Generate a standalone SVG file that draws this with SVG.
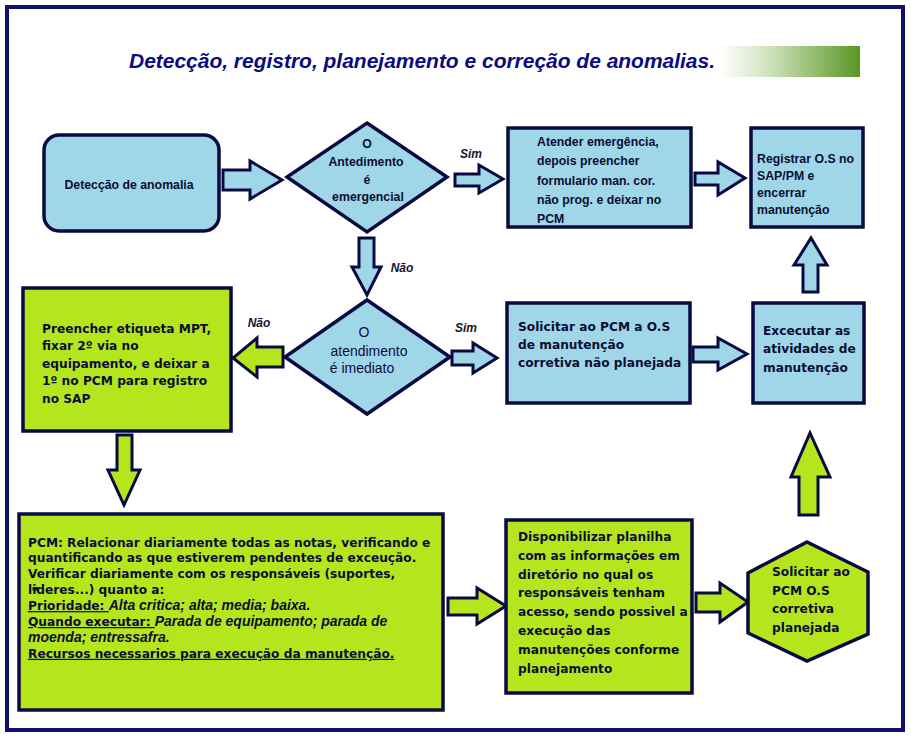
<svg xmlns="http://www.w3.org/2000/svg" width="911" height="737" viewBox="0 0 911 737">
<defs>
<linearGradient id="gbar" x1="0" y1="0" x2="1" y2="0">
<stop offset="0" stop-color="#ffffff"/>
<stop offset="0.35" stop-color="#cfe3bd"/>
<stop offset="1" stop-color="#5a9623"/>
</linearGradient>
<style>
.blue{fill:#9fd7e8;stroke:#0a0a42;stroke-width:3.5;stroke-linejoin:miter}
.green{fill:#b5e61d;stroke:#0a0a42;stroke-width:3.5;stroke-linejoin:miter}
.ab{fill:#9fd7e8;stroke:#0a0a42;stroke-width:3;stroke-linejoin:miter}
.ag{fill:#b5e61d;stroke:#0a0a42;stroke-width:3;stroke-linejoin:miter}
.c{font-family:"Liberation Sans",Arial,sans-serif;font-weight:bold;font-size:12.3px;fill:#0d0d33}
.t{font-family:"DejaVu Sans",Verdana,sans-serif;font-weight:bold;font-size:12.2px;fill:#0d0d33}
.lbl{font-family:"Liberation Sans",Arial,sans-serif;font-weight:bold;font-style:italic;font-size:12px;fill:#151530}
.it{font-family:"Liberation Sans",Arial,sans-serif;font-weight:bold;font-style:italic;font-size:14px}
.u{text-decoration:underline}
</style>
</defs>
<rect x="0" y="0" width="911" height="737" fill="#ffffff"/>
<rect x="7" y="7" width="896" height="723" fill="none" stroke="#10106e" stroke-width="4"/>
<g id="title">
<rect x="720" y="46" width="140" height="31" fill="url(#gbar)"/>
<text x="129" y="68" textLength="586" lengthAdjust="spacingAndGlyphs" font-family="'Liberation Sans',Arial,sans-serif" font-weight="bold" font-style="italic" font-size="19.5" fill="#0b0b80">Detecção, registro, planejamento e correção de anomalias.</text>
</g>
<g id="connectors">
<polygon class="ab" points="223,170 250,170 250,161 282,180 250,199 250,190 223,190"/>
<polygon class="ab" points="455,174 479,174 479,165 503,179 479,193 479,186 455,186"/>
<polygon class="ab" points="695,173 718,173 718,162 745,178 718,195 718,185 695,185"/>
<polygon class="ab" points="359,238 374,238 374,267 381,267 367,295 352,267 359,267"/>
<polygon class="ab" points="452,351 473,351 473,343 497,358 473,373 473,365 452,365"/>
<polygon class="ag" points="283,347 257,347 257,338 233,358 257,377 257,367 283,367"/>
<polygon class="ab" points="693,347 718,347 718,338 747,354 718,370 718,362 693,362"/>
<polygon class="ab" points="803,292 803,265 794,265 811,238 827,265 818,265 818,292"/>
<polygon class="ag" points="117,435 132,435 132,470 140,470 124,505 108,470 117,470"/>
<polygon class="ag" points="448,598 477,598 477,588 506,606 477,624 477,615 448,615"/>
<polygon class="ag" points="696,593 720,593 720,583 748,602 720,622 720,612 696,612"/>
<polygon class="ag" points="799,515 799,477 791,477 810,433 830,477 818,477 818,515"/>
<text class="lbl" x="471" y="158" text-anchor="middle">Sim</text>
<text class="lbl" x="402" y="272" text-anchor="middle">Não</text>
<text class="lbl" x="259" y="327" text-anchor="middle">Não</text>
<text class="lbl" x="466" y="332" text-anchor="middle">Sim</text>
</g>
<g id="n-deteccao">
<rect class="blue" x="44" y="135" width="175" height="96" rx="15" ry="15"/>
<text class="c" x="129" y="189" text-anchor="middle" font-size="13">Detecção de anomalia</text>
</g>
<g id="n-emergencial">
<polygon class="blue" points="367,123 447,177 367,232 287,177"/>
<text class="c" text-anchor="middle"><tspan x="367" y="148">O</tspan><tspan x="366" y="166">Antedimento</tspan><tspan x="367" y="184">é</tspan><tspan x="368" y="201">emergencial</tspan></text>
</g>
<g id="n-atender">
<rect class="blue" x="508" y="128" width="183" height="99"/>
<text class="c" font-size="12.4"><tspan x="537" y="146">Atender emergência,</tspan><tspan x="537" y="165.3">depois preencher</tspan><tspan x="537" y="184.6">formulario man. cor.</tspan><tspan x="537" y="203.9">não prog. e deixar no</tspan><tspan x="537" y="223.2">PCM</tspan></text>
</g>
<g id="n-registrar">
<rect class="blue" x="751" y="128" width="112" height="99"/>
<text class="c" font-size="12.25"><tspan x="757" y="163">Registrar O.S no</tspan><tspan x="757" y="180">SAP/PM e</tspan><tspan x="757" y="197">encerrar</tspan><tspan x="757" y="214">manutenção</tspan></text>
</g>
<g id="n-imediato">
<polygon class="blue" points="367,300 450,357 367,414 285,357"/>
<text font-family="'Liberation Sans',Arial,sans-serif" font-size="14" fill="#0d0d40" text-anchor="middle"><tspan x="364" y="337">O</tspan><tspan x="369" y="355.5">atendimento</tspan><tspan x="362" y="373">é imediato</tspan></text>
</g>
<g id="n-preencher">
<rect class="green" x="23" y="288" width="208" height="143"/>
<text class="t"><tspan x="42" y="332.7">Preencher etiqueta MPT,</tspan><tspan x="42" y="350.2">fixar 2º via no</tspan><tspan x="42" y="367.7">equipamento, e deixar a</tspan><tspan x="42" y="385.2">1º no PCM para registro</tspan><tspan x="42" y="402.7">no SAP</tspan></text>
</g>
<g id="n-solicitar-np">
<rect class="blue" x="507" y="303" width="183" height="100"/>
<text class="t"><tspan x="518" y="330.7">Solicitar ao PCM a O.S</tspan><tspan x="518" y="349">de manutenção</tspan><tspan x="518" y="367.3">corretiva não planejada</tspan></text>
</g>
<g id="n-executar">
<rect class="blue" x="753" y="303" width="111" height="100"/>
<text class="t"><tspan x="763" y="334.5">Excecutar as</tspan><tspan x="763" y="353">atividades de</tspan><tspan x="763" y="371.5">manutenção</tspan></text>
</g>
<g id="n-pcm">
<rect class="green" x="19" y="514" width="424" height="196"/>
<text class="t">
<tspan x="28" y="546.5">PCM: Relacionar diariamente todas as notas, verificando e</tspan>
<tspan x="28" y="562.4">quantificando as que estiverem pendentes de exceução.</tspan>
<tspan x="28" y="578.3">Verificar diariamente com os responsáveis (suportes,</tspan>
<tspan x="28" y="594.2">lideres...) quanto a:</tspan>
<tspan x="28" y="610.1" class="u">Prioridade: </tspan><tspan class="it">Alta critica; alta; media; baixa.</tspan>
<tspan x="28" y="626" class="u">Quando executar: </tspan><tspan class="it">Parada de equipamento; parada de</tspan>
<tspan x="28" y="641.9" class="it">moenda; entressafra.</tspan>
<tspan x="28" y="657.8" class="u">Recursos necessarios para execução da manutenção.</tspan>
</text>
<rect x="32.5" y="587" width="6.5" height="3.5" fill="#0d0d33"/>
</g>
<g id="n-disponibilizar">
<rect class="green" x="506" y="520" width="186" height="173"/>
<text class="t"><tspan x="518" y="541">Disponibilizar planilha</tspan><tspan x="518" y="559.8">com as informações em</tspan><tspan x="518" y="578.6">diretório no qual os</tspan><tspan x="518" y="597.4">responsáveis tenham</tspan><tspan x="518" y="616.2">acesso, sendo possivel a</tspan><tspan x="518" y="635">execução das</tspan><tspan x="518" y="653.8">manutenções conforme</tspan><tspan x="518" y="672.6">planejamento</tspan></text>
</g>
<g id="n-solicitar-p">
<polygon class="green" points="807,542 868,572 868,634 807,661 748,633 748,573"/>
<text class="t"><tspan x="772" y="576">Solicitar ao</tspan><tspan x="772" y="594.5">PCM O.S</tspan><tspan x="772" y="613">corretiva</tspan><tspan x="772" y="631.5">planejada</tspan></text>
</g>
</svg>
